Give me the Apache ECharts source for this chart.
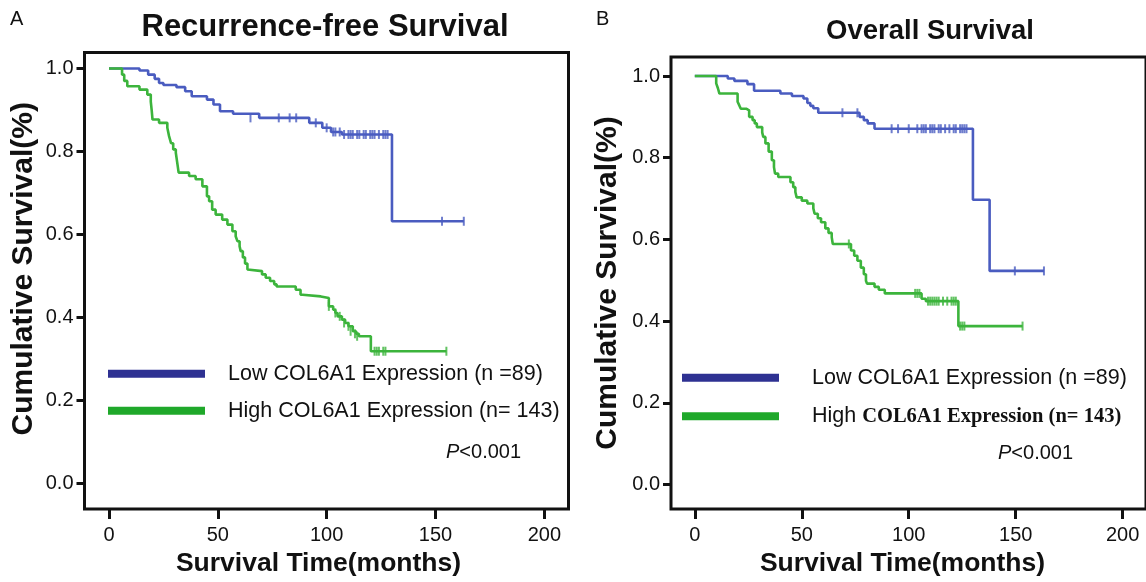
<!DOCTYPE html>
<html>
<head>
<meta charset="utf-8">
<script src="https://cdn.jsdelivr.net/npm/echarts@6/dist/echarts.min.js"></script>
<style>
html,body{margin:0;padding:0;background:#fff;}
#chart{width:1146px;height:582px;}
</style>
</head>
<body>
<div id="chart"></div>
<script>
// ---------- data ----------
const panelLetters = ['A', 'B'];
const panelTitles = ['Recurrence-free Survival', 'Overall Survival'];
const xAxisName = 'Survival Time(months)';
const yAxisName = 'Cumulative Survival(%)';
const xTicks = [0, 50, 100, 150, 200];
const yTicks = [0, 0.2, 0.4, 0.6, 0.8, 1.0];
const lowName = 'Low COL6A1 Expression (n =89)';
const highName = 'High COL6A1 Expression (n= 143)';
const pText = 'P<0.001';

// Recurrence-free survival (panel A): [month, survival] at each event
const rfsLow = [[0,1],[14,0.995],[18,0.985],[21,0.975],[23,0.965],[25,0.96],[31,0.955],[35,0.945],[38,0.933],[45,0.925],[48,0.913],[51,0.897],[57,0.891],[69,0.881],[92,0.869],[98,0.857],[102,0.847],[107,0.841],[130,0.632],[163,0.632]];
const rfsHigh = [[0,1],[6,0.985],[7,0.97],[8.4,0.957],[14,0.949],[17.6,0.937],[19.2,0.92],[19.6,0.9],[20,0.877],[23,0.869],[26.8,0.857],[27.6,0.837],[28.5,0.82],[29.5,0.805],[30.7,0.797],[31.3,0.775],[32,0.749],[36.8,0.741],[39.8,0.733],[42.9,0.716],[45,0.692],[46,0.68],[47.4,0.66],[49,0.648],[52,0.636],[54.4,0.624],[56.7,0.608],[58.2,0.596],[59,0.584],[60,0.572],[60.5,0.56],[61.5,0.545],[62.5,0.53],[63.6,0.516],[64.5,0.512],[70.3,0.504],[72,0.496],[74,0.488],[75.9,0.48],[77,0.475],[85.8,0.467],[88,0.455],[89,0.451],[97.3,0.447],[101,0.427],[103,0.419],[104,0.411],[105,0.403],[107,0.395],[108.5,0.387],[110,0.379],[112,0.367],[113.5,0.361],[114.8,0.355],[120.3,0.319],[155,0.319]];
const rfsLowCens = [[65,0.881],[78,0.881],[83,0.881],[86,0.881],[95,0.869],[100,0.857],[103,0.847],[104,0.847],[106,0.847],[108,0.841],[110,0.841],[111,0.841],[112,0.841],[114,0.841],[115,0.841],[117,0.841],[118,0.841],[120,0.841],[121,0.841],[122,0.841],[124,0.841],[126,0.841],[127,0.841],[128,0.841],[153,0.632],[163,0.632]];
const rfsHighCens = [[101,0.427],[104,0.411],[106,0.403],[108,0.387],[110,0.379],[111,0.367],[113,0.361],[114,0.355],[122,0.319],[123,0.319],[124,0.319],[126,0.319],[127,0.319],[155,0.319]];

// Overall survival (panel B)
const osLow = [[0,1],[15.4,0.994],[18.5,0.988],[24.6,0.98],[27.7,0.964],[40,0.957],[45.4,0.951],[50.8,0.945],[52.6,0.934],[54,0.927],[55.4,0.921],[57.7,0.91],[77,0.9],[79,0.892],[80.8,0.884],[84,0.871],[130,0.697],[137.8,0.523],[163.2,0.523]];
const osHigh = [[0,1],[10,0.982],[10.8,0.97],[11.5,0.957],[20,0.937],[20.8,0.928],[21.5,0.92],[24,0.916],[25.4,0.9],[27,0.892],[28,0.884],[29,0.875],[31.5,0.862],[32,0.851],[33,0.835],[34.5,0.815],[36,0.794],[37,0.777],[37.5,0.761],[39,0.753],[44.7,0.74],[46,0.728],[47,0.716],[47.6,0.703],[50,0.695],[52.6,0.688],[55.4,0.676],[56,0.663],[57.5,0.652],[59,0.642],[61,0.627],[62.5,0.616],[64,0.605],[64.5,0.589],[73,0.573],[74.5,0.56],[76,0.548],[77.6,0.531],[79,0.515],[80,0.499],[80.5,0.492],[84,0.484],[86,0.477],[88.8,0.468],[106,0.455],[108,0.449],[123.2,0.388],[153.2,0.388]];
const osLowCens = [[69,0.91],[76,0.91],[92,0.871],[95,0.871],[100,0.871],[104,0.871],[106,0.871],[107,0.871],[108,0.871],[110,0.871],[111,0.871],[112,0.871],[114,0.871],[115,0.871],[117,0.871],[119,0.871],[121,0.871],[122,0.871],[124,0.871],[125,0.871],[126,0.871],[127,0.871],[149.6,0.523],[163.2,0.523]];
const osHighCens = [[72,0.589],[103,0.468],[104,0.468],[105,0.468],[109,0.449],[110,0.449],[111,0.449],[112,0.449],[113,0.449],[114,0.449],[116,0.449],[118,0.449],[120,0.449],[121,0.449],[122,0.449],[124,0.388],[125,0.388],[126,0.388],[153.2,0.388]];

// ---------- styling ----------
const SANS = '"Liberation Sans", Arial, sans-serif';
const SERIF = '"Liberation Serif", "Times New Roman", serif';
const lowColor = '#4a5cc0';
const highColor = '#3cb43c';
const lowLegend = '#2e3192';
const highLegend = '#1fa82a';

const grids = [
  {left: 84.5, top: 52.5, width: 484, height: 458.5, xMin: -11.25, xMax: 211.1, yMin: -0.0612, yMax: 1.0384,
   yNameGap: 46, yNamePad: [0, 0, 0, 24], xNamePad: [0, 16, 0, 0]},
  {left: 671, top: 57, width: 479, height: 452.5, xMin: -11.13, xMax: 210.9, yMin: -0.0599, yMax: 1.0465,
   yNameGap: 48, yNamePad: [0, 0, 0, 0], xNamePad: [0, 12, 0, 0]}
];

const option = {
  backgroundColor: '#fff',
  animation: false,
  grid: grids.map(g => ({left: g.left, top: g.top, width: g.width, height: g.height, show: true, borderColor: '#111', borderWidth: 3, backgroundColor: 'transparent'})),
  xAxis: grids.map((g, i) => ({
    type: 'value', gridIndex: i, min: g.xMin, max: g.xMax,
    axisLine: {show: false, onZero: false},
    axisTick: {show: true, customValues: xTicks, length: 10, inside: false, lineStyle: {color: '#111', width: 3}},
    axisLabel: {show: true, customValues: xTicks, margin: 16, fontSize: 20, color: '#111', fontFamily: SANS},
    splitLine: {show: false},
    name: xAxisName, nameLocation: 'middle', nameGap: 40,
    nameTextStyle: {fontSize: 26.5, fontWeight: 'bold', color: '#111', fontFamily: SANS, padding: g.xNamePad}
  })),
  yAxis: grids.map((g, i) => ({
    type: 'value', gridIndex: i, min: g.yMin, max: g.yMax,
    axisLine: {show: false, onZero: false},
    axisTick: {show: true, customValues: yTicks, length: 8, inside: false, lineStyle: {color: '#111', width: 3}},
    axisLabel: {show: true, customValues: yTicks, margin: 11, fontSize: 20, color: '#111', fontFamily: SANS,
      formatter: v => v.toFixed(1)},
    splitLine: {show: false},
    name: yAxisName, nameLocation: 'middle', nameGap: g.yNameGap, nameRotate: 90,
    nameTextStyle: {fontSize: 30, fontWeight: 'bold', color: '#111', fontFamily: SANS, padding: g.yNamePad}
  })),
  legend: [
    {
      left: 108, top: 362.7, padding: 0, orient: 'vertical', itemWidth: 97, itemHeight: 8, itemGap: 15, icon: 'rect',
      selectedMode: false,
      data: [{name: lowName, itemStyle: {color: lowLegend}}, {name: highName, itemStyle: {color: highLegend}}],
      formatter: n => '{g|}{t|' + n + '}',
      textStyle: {rich: {g: {width: 18, lineHeight: 20}, t: {fontSize: 21.5, color: '#111', fontFamily: SANS, lineHeight: 20}}}
    },
    {
      left: 682, top: 366.7, padding: 0, orient: 'vertical', itemWidth: 97, itemHeight: 8, itemGap: 16.6, icon: 'rect',
      selectedMode: false,
      data: [{name: lowName, itemStyle: {color: lowLegend}}, {name: highName, itemStyle: {color: highLegend}}],
      formatter: n => {
        if (n === highName) {
          const first = n.split(' ')[0];
          return '{g|}{t|' + first + ' }{s|' + n.slice(first.length + 1) + '}';
        }
        return '{g|}{t|' + n + '}';
      },
      textStyle: {rich: {
        g: {width: 28, lineHeight: 20},
        t: {fontSize: 21.5, color: '#111', fontFamily: SANS, lineHeight: 20},
        s: {fontSize: 20.5, color: '#111', fontFamily: SERIF, fontWeight: 'bold', lineHeight: 20}
      }}
    }
  ],
  graphic: [
    {type: 'text', left: 10, top: 9, style: {text: panelLetters[0], fontSize: 20, fill: '#111', fontFamily: SANS}},
    {type: 'text', left: 596, top: 9, style: {text: panelLetters[1], fontSize: 20, fill: '#111', fontFamily: SANS}},
    {type: 'text', x: 325, y: 27, style: {text: panelTitles[0], fontSize: 31, fontWeight: 'bold', fill: '#111', fontFamily: SANS, align: 'center', verticalAlign: 'middle'}},
    {type: 'text', x: 930, y: 31, style: {text: panelTitles[1], fontSize: 27.5, fontWeight: 'bold', fill: '#111', fontFamily: SANS, align: 'center', verticalAlign: 'middle'}},
    {type: 'text', x: 446, y: 452, style: {text: '{i|' + pText.charAt(0) + '}{n|' + pText.slice(1) + '}', verticalAlign: 'middle',
      rich: {i: {fontSize: 20, fontStyle: 'italic', fill: '#111', fontFamily: SANS}, n: {fontSize: 20, fill: '#111', fontFamily: SANS}}}},
    {type: 'text', x: 998, y: 453, style: {text: '{i|' + pText.charAt(0) + '}{n|' + pText.slice(1) + '}', verticalAlign: 'middle',
      rich: {i: {fontSize: 20, fontStyle: 'italic', fill: '#111', fontFamily: SANS}, n: {fontSize: 20, fill: '#111', fontFamily: SANS}}}}
  ],
  series: [
    {name: lowName, type: 'line', xAxisIndex: 0, yAxisIndex: 0, step: 'end', data: rfsLow, showSymbol: false, symbol: 'none', color: lowColor, lineStyle: {color: lowColor, width: 2.6}, z: 3},
    {name: highName, type: 'line', xAxisIndex: 0, yAxisIndex: 0, step: 'end', data: rfsHigh, showSymbol: false, symbol: 'none', color: highColor, lineStyle: {color: highColor, width: 2.6}, z: 3},
    {name: 'rfsLowCensored', type: 'scatter', xAxisIndex: 0, yAxisIndex: 0, data: rfsLowCens, symbol: 'rect', symbolSize: [2, 9], itemStyle: {color: lowColor}, z: 4},
    {name: 'rfsHighCensored', type: 'scatter', xAxisIndex: 0, yAxisIndex: 0, data: rfsHighCens, symbol: 'rect', symbolSize: [2, 9], itemStyle: {color: highColor}, z: 4},
    {name: lowName, type: 'line', xAxisIndex: 1, yAxisIndex: 1, step: 'end', data: osLow, showSymbol: false, symbol: 'none', color: lowColor, lineStyle: {color: lowColor, width: 2.6}, z: 3},
    {name: highName, type: 'line', xAxisIndex: 1, yAxisIndex: 1, step: 'end', data: osHigh, showSymbol: false, symbol: 'none', color: highColor, lineStyle: {color: highColor, width: 2.6}, z: 3},
    {name: 'osLowCensored', type: 'scatter', xAxisIndex: 1, yAxisIndex: 1, data: osLowCens, symbol: 'rect', symbolSize: [2, 9], itemStyle: {color: lowColor}, z: 4},
    {name: 'osHighCensored', type: 'scatter', xAxisIndex: 1, yAxisIndex: 1, data: osHighCens, symbol: 'rect', symbolSize: [2, 9], itemStyle: {color: highColor}, z: 4}
  ]
};

const chart = echarts.init(document.getElementById('chart'), null, {renderer: 'canvas'});
chart.setOption(option);
</script>
</body>
</html>
